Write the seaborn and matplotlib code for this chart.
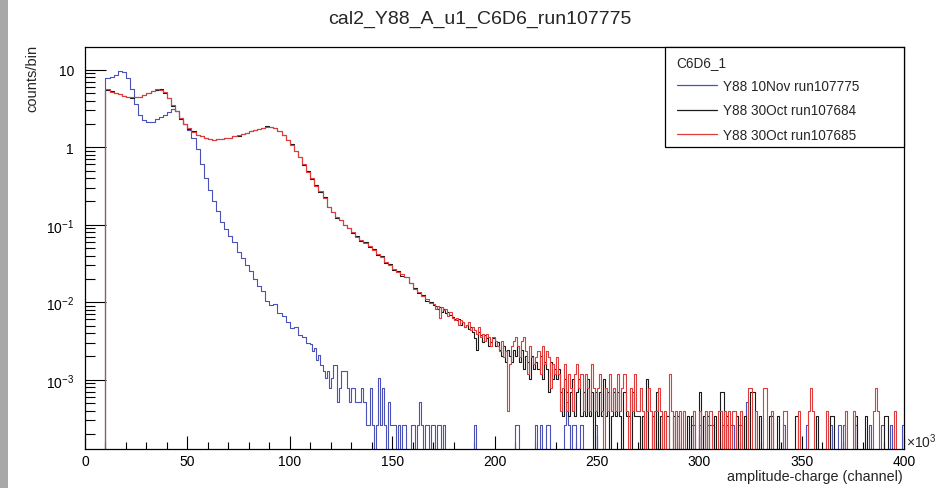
import numpy as np
import pandas as pd
import matplotlib
matplotlib.use("Agg")
import matplotlib.pyplot as plt
import seaborn as sns
from matplotlib.lines import Line2D
from matplotlib.patches import Rectangle
from matplotlib.ticker import FixedLocator, FuncFormatter, MultipleLocator, NullFormatter

# ---------------- data ----------------
title = "cal2_Y88_A_u1_C6D6_run107775"
legend_title = "C6D6_1"
labels = ["Y88 10Nov run107775", "Y88 30Oct run107684", "Y88 30Oct run107685"]

start_k = 10          # histograms start at 10 x10^3 channels
x_max_k = 400

# blue: 2k-wide bins from 10k, then 1k bins (counts x unit)
blue_smooth = [7.8, 8.0, 8.6, 9.6, 9.4, 7.8, 5.6, 3.6, 2.6, 2.25,
               2.1, 2.15, 2.3, 2.45, 2.6, 2.85, 3.1, 2.9, 2.4, 2.0,
               1.65, 1.3, 0.95, 0.6, 0.4, 0.28, 0.2, 0.15, 0.11, 0.088,
               0.072, 0.06, 0.045, 0.037, 0.03, 0.025, 0.02, 0.016, 0.014, 0.0105,
               0.0092, 0.0095, 0.0072, 0.0066, 0.0055, 0.0046, 0.0048, 0.0038, 0.0036, 0.003]
blue_dense = [11, 9, 10, 7, 8, 6, 5, 4, 5, 3,
              4, 6, 6, 2, 3, 5, 5, 5, 3, 2,
              3, 3, 2, 2, 2, 3, 2, 1, 1, 3,
              1, 0, 1, 4, 1, 3, 1, 0, 2, 1,
              1, 1, 0, 1, 0, 1, 1, 0, 0, 1,
              1, 0, 1, 2, 1, 0, 1, 1, 0, 1,
              1, 0, 1, 1, 0, 1, 0, 0, 0, 0]
blue_sparse_k = [190, 210, 211, 220, 222, 225, 226, 234, 235, 236, 238, 239, 242, 249,
                 296, 297, 300, 304, 305, 306, 311, 313, 315, 316, 319, 320, 323,
                 341, 352, 364, 368, 370, 376, 383, 389, 393, 399]
blue_sparse_n = [1, 1, 1, 1, 1, 1, 1, 1, 2, 1, 1, 1, 1, 1,
                 1, 1, 1, 1, 1, 1, 1, 1, 1, 1, 1, 1, 2,
                 1, 1, 1, 1, 1, 1, 1, 1, 1, 1]
blue_unit = 2.6e-4

red_smooth = [5.6, 5.2, 5.0, 4.8, 4.6, 4.5, 4.4, 4.4, 4.5, 4.7,
              5.0, 5.3, 5.6, 5.55, 5.1, 4.3, 3.5, 2.9, 2.4, 2.0,
              1.75, 1.58, 1.45, 1.38, 1.32, 1.28, 1.26, 1.27, 1.28, 1.3,
              1.33, 1.38, 1.42, 1.48, 1.55, 1.62, 1.67, 1.72, 1.78, 1.85,
              1.83, 1.75, 1.62, 1.45, 1.25, 1.08, 0.9, 0.74, 0.6, 0.48,
              0.4, 0.32, 0.27, 0.22, 0.17, 0.145, 0.125, 0.115, 0.1, 0.09,
              0.08, 0.07, 0.064, 0.058, 0.053, 0.047, 0.042, 0.038, 0.033, 0.030,
              0.027, 0.0245, 0.023, 0.021, 0.018, 0.015, 0.0135, 0.012, 0.011, 0.0098]
red_dense = [24, 21, 23, 16, 22, 20, 21, 17, 19, 16,
             15, 16, 13, 15, 14, 12, 13, 14, 11, 12,
             11, 10, 12, 9, 10, 8, 10, 9, 7, 9,
             8, 7, 6, 8, 5, 6, 1, 4, 7, 8,
             9, 7, 5, 8, 9, 6, 3, 7, 5, 4,
             5, 6, 3, 7, 4, 6, 5, 2, 4, 3,
             5, 3, 1, 2, 4, 1, 3, 2, 1, 3,
             4, 2, 3, 1, 3, 2, 1, 4, 2, 1,
             2, 3, 1, 0, 2, 1, 3, 1, 2, 1,
             3, 1, 2, 3, 1, 0, 2, 1, 3, 1]
red_sparse_k = [270, 271, 272, 274, 275, 276, 278, 279, 280, 281, 283, 285, 286, 288,
                290, 292, 297, 300, 303, 305, 309, 310, 312, 314, 316, 317, 320,
                324, 325, 327, 331, 332, 335, 341, 342, 348, 353, 354, 355, 362,
                371, 375, 385, 386, 387, 395]
red_sparse_n = [1, 2, 1, 1, 2, 1, 1, 1, 2, 1, 1, 3, 1, 1,
                1, 1, 1, 1, 1, 1, 1, 1, 1, 1, 1, 1, 1,
                2, 2, 1, 2, 2, 1, 1, 1, 1, 1, 2, 1, 1,
                1, 1, 1, 2, 1, 1]
red_unit = 3.95e-4

black_smooth = [5.5, 5.25, 4.95, 4.85, 4.55, 4.5, 4.35, 4.45, 4.5, 4.75,
                4.95, 5.35, 5.55, 5.6, 5.05, 4.35, 3.45, 2.95, 2.35, 2.02,
                1.73, 1.6, 1.44, 1.39, 1.31, 1.29, 1.25, 1.28, 1.27, 1.31,
                1.32, 1.39, 1.41, 1.49, 1.54, 1.63, 1.66, 1.73, 1.77, 1.86,
                1.82, 1.76, 1.6, 1.46, 1.24, 1.09, 0.89, 0.75, 0.59, 0.49,
                0.39, 0.33, 0.265, 0.225, 0.168, 0.148, 0.122, 0.117, 0.098, 0.092,
                0.078, 0.072, 0.062, 0.06, 0.051, 0.049, 0.041, 0.039, 0.032, 0.031,
                0.026, 0.025, 0.022, 0.0215, 0.0175, 0.0155, 0.013, 0.0125, 0.0105, 0.01]
black_dense = [27, 26, 24, 25, 22, 24, 21, 22, 20, 19,
               18, 17, 18, 15, 16, 14, 15, 13, 14, 12,
               10, 7, 12, 11, 9, 11, 10, 8, 9, 10,
               8, 9, 7, 6, 8, 5, 7, 6, 5, 7,
               6, 8, 5, 7, 4, 6, 5, 3, 6, 4,
               5, 4, 6, 3, 5, 4, 2, 5, 3, 4,
               3, 4, 2, 1, 3, 2, 1, 2, 3, 1,
               2, 3, 1, 2, 1, 3, 1, 2, 0, 2,
               1, 2, 1, 3, 1, 2, 0, 1, 2, 1,
               2, 1, 0, 2, 1, 1, 0, 2, 1, 1]
black_sparse_k = [270, 272, 274, 277, 279, 281, 284, 287, 289, 294, 296, 300, 302, 304,
                  307, 310, 311, 313, 318, 322, 325, 326, 329, 334, 335, 338, 347,
                  357, 364, 365, 376, 381, 390, 391]
black_sparse_n = [1, 1, 3, 1, 2, 1, 1, 1, 1, 1, 1, 2, 1, 1,
                  1, 2, 2, 1, 1, 1, 2, 2, 1, 1, 1, 1, 1,
                  1, 1, 1, 1, 1, 1, 1]
black_unit = 3.43e-4

colors = {"blue": "#4a52b8", "black": "#1c1c1c", "red": "#e03c3c"}

y_lim = (1.28e-4, 19.5)


def build(smooth, dense, sparse_k, sparse_n, unit):
    s_end = start_k + 2 * len(smooth)
    edges = np.concatenate([[0.0], np.arange(start_k, s_end + 1, 2),
                            np.arange(s_end + 1, x_max_k + 1, 1)]).astype(float)
    fine = np.zeros(x_max_k - s_end)
    fine[:len(dense)] = dense
    for k, n in zip(sparse_k, sparse_n):
        fine[k - s_end] = n
    values = np.concatenate([[0.0], smooth, fine * unit])
    centers = 0.5 * (edges[:-1] + edges[1:])
    return pd.DataFrame({"x": centers, "w": values}), [float(b) for b in edges]


sns.set_style("ticks")
plt.rcParams["font.family"] = ["Liberation Sans", "DejaVu Sans"]
plt.rcParams["mathtext.fontset"] = "custom"
plt.rcParams["mathtext.rm"] = "Liberation Sans"
plt.rcParams["mathtext.it"] = "Liberation Sans:italic"
plt.rcParams["mathtext.bf"] = "Liberation Sans:bold"

fig = plt.figure(figsize=(9.37, 4.89), dpi=100)
fig.patch.set_facecolor("white")
ax = fig.add_axes([85 / 937, 1 - 450 / 489, 819 / 937, (450 - 48.3) / 489])

series = [
    ("blue", blue_smooth, blue_dense, blue_sparse_k, blue_sparse_n, blue_unit),
    ("black", black_smooth, black_dense, black_sparse_k, black_sparse_n, black_unit),
    ("red", red_smooth, red_dense, red_sparse_k, red_sparse_n, red_unit),
]
for name, sm, de, sk, sn, un in series:
    df, e = build(sm, de, sk, sn, un)
    sns.histplot(data=df, x="x", weights="w", bins=e, element="step", fill=False,
                 color=colors[name], linewidth=0.8, ax=ax)

ax.set_yscale("log")
ax.set_xlim(0, x_max_k)
ax.set_ylim(*y_lim)
ax.set_xlabel("")
ax.set_ylabel("")

# ticks (ROOT style: inward, left/bottom only)
ax.xaxis.set_major_locator(MultipleLocator(50))
ax.xaxis.set_minor_locator(MultipleLocator(10))
ax.xaxis.set_major_formatter(FuncFormatter(lambda v, p: f"{int(round(v))}"))
ax.yaxis.set_major_locator(FixedLocator([1e-3, 1e-2, 1e-1, 1, 10]))
ylab = {1e-3: r"$10^{-3}$", 1e-2: r"$10^{-2}$", 1e-1: r"$10^{-1}$", 1: "1", 10: "10"}
ax.yaxis.set_major_formatter(FuncFormatter(
    lambda v, p: min(ylab.items(), key=lambda kv: abs(np.log10(kv[0]) - np.log10(v)))[1]))
minors = [m * 10.0 ** d for d in range(-4, 2) for m in range(2, 10)]
ax.yaxis.set_minor_locator(FixedLocator([m for m in minors if y_lim[0] < m < y_lim[1]]))
ax.yaxis.set_minor_formatter(NullFormatter())
ax.tick_params(axis="both", which="both", direction="in", top=False, right=False,
               width=0.8, color="black", labelsize=10, labelcolor="black")
ax.tick_params(axis="x", which="major", length=9.5, pad=3.5)
ax.tick_params(axis="x", which="minor", length=4.7)
ax.tick_params(axis="y", which="major", length=15, pad=8)
ax.tick_params(axis="y", which="minor", length=7.5)
for s in ax.spines.values():
    s.set_linewidth(0.9)
    s.set_color("black")

# grey strip on the left edge of the canvas
fig.patches.append(Rectangle((0, 0), 8 / 937, 1, transform=fig.transFigure,
                             facecolor="#a8a8a8", edgecolor="none", zorder=0))

# texts
fig.text(480 / 937, 1 - 23.5 / 489, title, ha="center", va="baseline", fontsize=14)
fig.text(32 / 937, 1 - 45 / 489, "counts/bin", rotation=90, ha="center", va="top", fontsize=10.5)
fig.text(903 / 937, 1 - 477 / 489, "amplitude-charge (channel)", ha="right", va="center", fontsize=10.4)
fig.text(906 / 937, 1 - 442 / 489, r"$\times$10$^{3}$", ha="left", va="center", fontsize=10)

# legend (ROOT TLegend look)
handles = [Line2D([], [], color=colors[k], lw=0.9) for k in ["blue", "black", "red"]]
fig.patches.append(Rectangle((665 / 937, 1 - 148 / 489), (904 - 665) / 937, 100 / 489,
                             transform=fig.transFigure, facecolor="white",
                             edgecolor="black", linewidth=0.9, zorder=3))
leg = fig.legend(handles, labels, title=legend_title, loc="upper left",
                 bbox_to_anchor=(667 / 937, 1 - 46 / 489), frameon=False,
                 fontsize=9.8, title_fontsize=9.8, handlelength=3.0,
                 handletextpad=0.45, labelspacing=0.77, borderpad=0.2)
leg._legend_box.align = "left"
leg.set_zorder(4)

fig.savefig("out.png", dpi=100)
